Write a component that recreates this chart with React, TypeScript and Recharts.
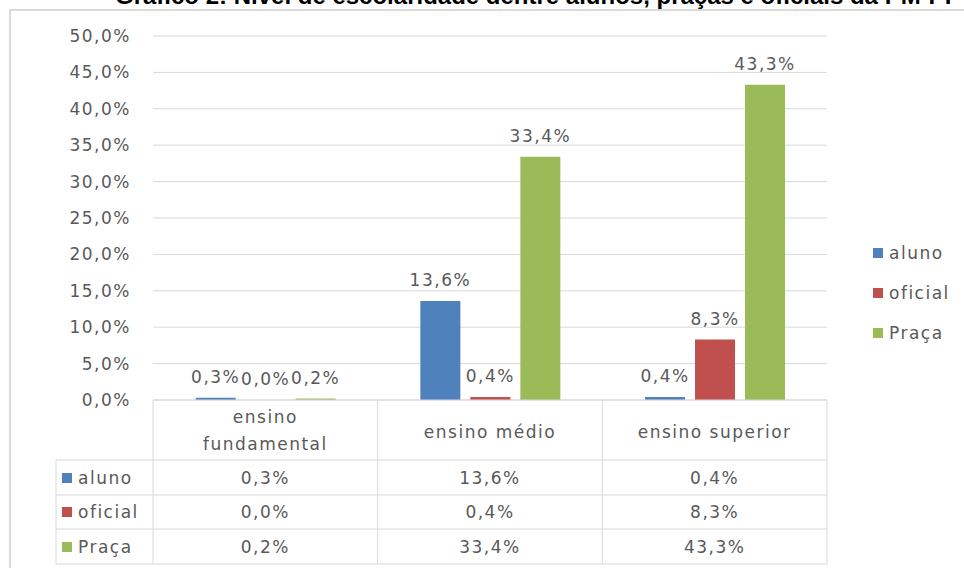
import React from 'react';
import { Bar, BarChart, CartesianGrid, LabelList, XAxis, YAxis } from 'recharts';

const categories = ['ensino fundamental', 'ensino médio', 'ensino superior'];
const aluno = [0.3, 13.6, 0.4];
const oficial = [0.0, 0.4, 8.3];
const praca = [0.2, 33.4, 43.3];
const yTicks = [0, 5, 10, 15, 20, 25, 30, 35, 40, 45, 50];

const series = [
  { key: 'aluno', name: 'aluno', color: '#4f81bd', values: aluno },
  { key: 'oficial', name: 'oficial', color: '#c0504d', values: oficial },
  { key: 'praca', name: 'Praça', color: '#9bbb59', values: praca },
];

const headerLines: Record<string, string[]> = {
  'ensino fundamental': ['ensino', 'fundamental'],
};

const data = categories.map((cat, i) => ({
  cat,
  aluno: aluno[i],
  oficial: oficial[i],
  praca: praca[i],
}));

const TEXT = '#595959';
const LINE = '#d9d9d9';
const FONT = 'DejaVu Sans';
const FS = 17;
const LS = 1.5;

const fmt = (v: number) => `${v.toFixed(1).replace('.', ',')}%`;

// table rows under the plot, drawn from the x axis ticks
const rowLines = [460, 495, 529, 564];
const rowMid = [478, 512, 547];

function TableTick(props: any) {
  const { x, y, payload, index, width, visibleTicksCount } = props;
  const bw = width && visibleTicksCount ? width / visibleTicksCount : 225;
  const left = x - bw / 2;
  const right = x + bw / 2;
  const top = y;
  const bottom = rowLines[rowLines.length - 1];
  const lines = headerLines[payload.value] ?? [payload.value];
  const tableLeft = 56;
  return (
    <g fontFamily={FONT} fontSize={FS} fill={TEXT} letterSpacing={LS}>
      {index === 0 && (
        <g>
          <line x1={left} x2={left} y1={top} y2={bottom} stroke={LINE} />
          <line x1={tableLeft} x2={tableLeft} y1={rowLines[0]} y2={bottom} stroke={LINE} />
          {rowLines.map((ly) => (
            <line key={ly} x1={tableLeft} x2={left} y1={ly} y2={ly} stroke={LINE} />
          ))}
          {series.map((s, r) => (
            <g key={s.key}>
              <rect x={62} y={rowMid[r] - 5} width={10} height={10} fill={s.color} />
              <text x={78} y={rowMid[r]} dominantBaseline="central" fill={TEXT}>
                {s.name}
              </text>
            </g>
          ))}
        </g>
      )}
      <line x1={right} x2={right} y1={top} y2={bottom} stroke={LINE} />
      {rowLines.map((ly) => (
        <line key={ly} x1={left} x2={right} y1={ly} y2={ly} stroke={LINE} />
      ))}
      {lines.map((t: string, i: number) => (
        <text
          key={t}
          x={x}
          y={lines.length === 1 ? 432 : 417 + i * 27}
          textAnchor="middle"
          dominantBaseline="central"
          fill={TEXT}
        >
          {t}
        </text>
      ))}
      {series.map((s, r) => (
        <text
          key={s.key}
          x={x}
          y={rowMid[r]}
          textAnchor="middle"
          dominantBaseline="central"
          fill={TEXT}
        >
          {fmt(s.values[index])}
        </text>
      ))}
    </g>
  );
}

function SideLegend() {
  return (
    <div
      style={{
        position: 'absolute',
        left: 873,
        top: 233,
        fontFamily: FONT,
        fontSize: FS,
        letterSpacing: LS,
        color: TEXT,
      }}
    >
      {series.map((s) => (
        <div key={s.key} style={{ display: 'flex', alignItems: 'center', height: 40 }}>
          <span
            style={{ width: 10, height: 10, background: s.color, display: 'inline-block', marginRight: 6 }}
          />
          <span>{s.name}</span>
        </div>
      ))}
    </div>
  );
}

export default function App() {
  return (
    <div style={{ position: 'absolute', left: 0, top: 0, width: 964, height: 568, overflow: 'hidden', background: '#fff' }}>
      <div
        style={{
          position: 'absolute',
          left: 9,
          top: 9,
          width: 1000,
          height: 600,
          border: `2px solid ${LINE}`,
        }}
      />
      <div
        style={{
          position: 'absolute',
          left: 115,
          top: -16,
          fontFamily: 'Liberation Sans',
          fontWeight: 'bold',
          fontSize: 24,
          lineHeight: '24px',
          whiteSpace: 'nowrap',
          color: '#000',
        }}
      >
        Gráfico 2: Nível de escolaridade dentre alunos, praças e oficiais da PM-PI
      </div>
      <div style={{ position: 'absolute', left: 0, top: 0 }}>
        <BarChart
          width={964}
          height={568}
          data={data}
          margin={{ top: 36, right: 137, bottom: 0, left: 0 }}
          barCategoryGap="19%"
          barGap={10}
        >
          <CartesianGrid vertical={false} stroke={LINE} />
          <YAxis
            width={153}
            domain={[0, 50]}
            ticks={yTicks}
            tickFormatter={fmt}
            axisLine={false}
            tickLine={false}
            tickSize={0}
            tickMargin={22}
            tick={{ fill: TEXT, fontSize: FS, fontFamily: FONT, letterSpacing: LS }}
          />
          <XAxis
            dataKey="cat"
            height={168}
            axisLine={{ stroke: LINE }}
            tickLine={false}
            tickSize={0}
            tickMargin={0}
            interval={0}
            tick={<TableTick />}
          />
          {series.map((s) => (
            <Bar
              key={s.key}
              dataKey={s.key}
              name={s.name}
              fill={s.color}
              minPointSize={0.01}
              isAnimationActive={false}
            >
              <LabelList
                dataKey={s.key}
                position="top"
                offset={15}
                formatter={(v: any) => fmt(Number(v))}
                style={{ fill: TEXT, fontSize: FS, fontFamily: FONT, letterSpacing: LS }}
              />
            </Bar>
          ))}
        </BarChart>
      </div>
      <SideLegend />
    </div>
  );
}
